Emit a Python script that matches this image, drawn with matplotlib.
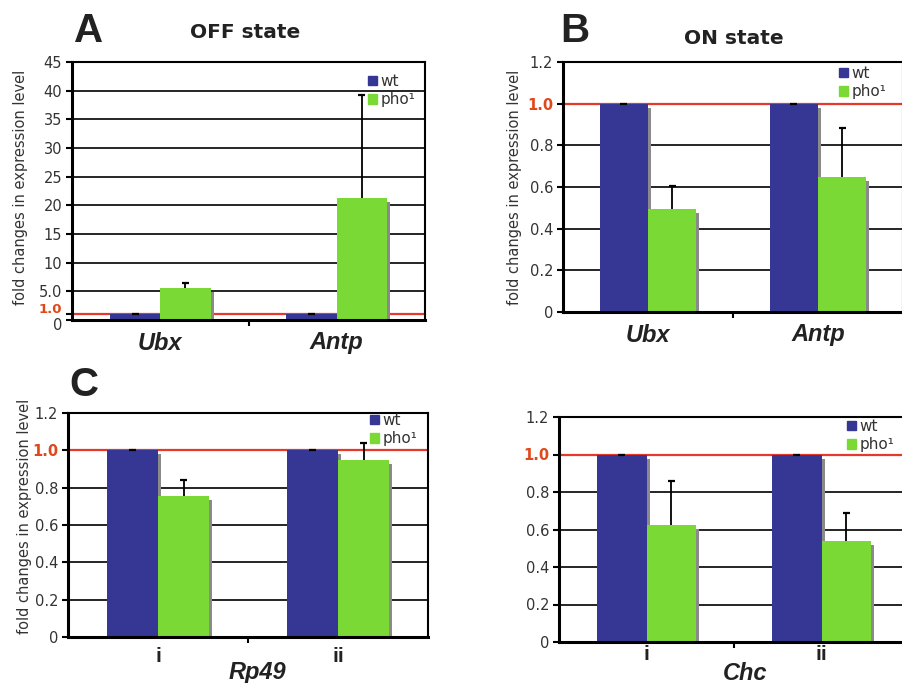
import matplotlib.pyplot as plt
import matplotlib.transforms as mtransforms
import numpy as np
from matplotlib.patches import Patch

W, H = 902, 683

wt_color = "#363794"
pho_color = "#7ad934"
line_red = "#e5392c"
label_red = "#e0481c"
text_gray = "#333333"

# A - OFF state
off_genes = ["Ubx", "Antp"]
off_wt = [1.0, 1.0]
off_pho = [5.55, 21.2]
off_pho_err = [0.95, 18.0]

# B - ON state
on_genes = ["Ubx", "Antp"]
on_wt = [1.0, 1.0]
on_pho = [0.495, 0.65]
on_pho_err = [0.11, 0.233]

# C - Rp49
rp49_regions = ["i", "ii"]
rp49_wt = [1.0, 1.0]
rp49_pho = [0.756, 0.949]
rp49_pho_err = [0.086, 0.09]

# D - Chc
chc_regions = ["i", "ii"]
chc_wt = [1.0, 1.0]
chc_pho = [0.624, 0.538]
chc_pho_err = [0.237, 0.152]

off_ticks = [0, 1.0, 5, 10, 15, 20, 25, 30, 35, 40, 45]
off_ticklabels = ["0", "1.0", "5.0", "10", "15", "20", "25", "30", "35", "40", "45"]
on_ticks = [0, 0.2, 0.4, 0.6, 0.8, 1.0, 1.2]
on_ticklabels = ["0", "0.2", "0.4", "0.6", "0.8", "1.0", "1.2"]

fig = plt.figure(figsize=(W / 100, H / 100), dpi=100)


def px_axes(left, top, right, bottom):
    return fig.add_axes([left / W, 1 - bottom / H, (right - left) / W, (bottom - top) / H])


def panel(ax, cats, wt, pho, pho_err, ticks, ticklabels, h_px, w_px, legend_xy,
          cat_style="italic", cat_off=23, cat_size=17, squeeze=False):
    x = np.arange(len(cats))
    ymax = ticks[-1]
    ax.set_xlim(-0.5, len(cats) - 0.5)
    ax.set_ylim(0, ymax)
    bw = 0.285
    for t in ticks[1:-1]:
        if t != 1.0:
            ax.axhline(t, color="black", lw=1.2, zorder=1)
    ax.axhline(1.0, color=line_red, lw=1.6, zorder=1.5)

    # grey drop shadow on the right of each bar
    dy = ymax / h_px * 4
    dx = len(cats) / w_px * 3
    ax.bar(x - bw / 2 + dx, np.array(wt) - dy, bw, color="#8a8a8a", zorder=2)
    ax.bar(x + bw / 2 + dx, np.array(pho) - dy, bw, color="#8a8a8a", zorder=2)
    ax.bar(x - bw / 2, wt, bw, color=wt_color, zorder=2.5)
    ax.bar(x + bw / 2, pho, bw, color=pho_color, zorder=2.5)

    # one-sided error bars
    cw = len(cats) / w_px * 3.5
    top = np.array(pho) + np.array(pho_err)
    ax.vlines(x + bw / 2, pho, top, color="black", lw=1.3, zorder=3)
    ax.hlines(top, x + bw / 2 - cw, x + bw / 2 + cw, color="black", lw=1.6, zorder=3)
    ax.hlines(wt, x - bw / 2 - cw, x - bw / 2 + cw, color="black", lw=1.6, zorder=3)

    ax.set_yticks(ticks)
    ax.set_yticklabels(ticklabels)
    ax.tick_params(axis="y", direction="out", length=4, width=1.5, pad=3,
                   labelsize=10.5, labelcolor=text_gray)
    for lab in ax.get_yticklabels():
        if lab.get_text() == "1.0":
            lab.set_color(label_red)
            lab.set_fontweight("bold")
            if squeeze:
                lab.set_fontsize(9.5)
                lab.set_transform(lab.get_transform() + mtransforms.ScaledTranslation(
                    0, 6 / 100, fig.dpi_scale_trans))
        if squeeze and lab.get_text() == "0":
            lab.set_transform(lab.get_transform() + mtransforms.ScaledTranslation(
                0, -4 / 100, fig.dpi_scale_trans))
    ax.set_xticks(x[:-1] + 0.5)
    ax.set_xticklabels([])
    ax.tick_params(axis="x", direction="out", length=4, width=1.5)
    for s in ax.spines.values():
        s.set_linewidth(1.5)
    ax.spines["left"].set_linewidth(2.2)
    ax.spines["bottom"].set_linewidth(2.2)

    for xi, c in zip(x, cats):
        ax.annotate(c, xy=(xi, 0), xycoords=("data", "axes fraction"),
                    xytext=(0, -cat_off), textcoords="offset pixels",
                    ha="center", va="center", fontsize=cat_size,
                    fontweight="bold", fontstyle=cat_style,
                    family="Liberation Sans", color="#222222")

    handles = [Patch(color=wt_color), Patch(color=pho_color)]
    ax.legend(handles, ["wt", "pho\u00b9"], loc="upper left",
              bbox_to_anchor=(legend_xy[0] / W, 1 - legend_xy[1] / H),
              bbox_transform=fig.transFigure, frameon=False,
              handlelength=0.6, handleheight=0.6, handletextpad=0.2,
              labelspacing=0.2, borderpad=0, borderaxespad=0, fontsize=11,
              labelcolor=text_gray)


axA = px_axes(72, 62, 425, 320)
panel(axA, off_genes, off_wt, off_pho, off_pho_err, off_ticks, off_ticklabels,
      258, 353, (368, 74), squeeze=True)

axB = px_axes(563, 62, 903, 312)
panel(axB, on_genes, on_wt, on_pho, on_pho_err, on_ticks, on_ticklabels,
      250, 340, (839, 66))

axC = px_axes(68, 413, 428, 637)
panel(axC, rp49_regions, rp49_wt, rp49_pho, rp49_pho_err, on_ticks, on_ticklabels,
      224, 360, (370, 413), cat_style="normal", cat_off=20, cat_size=15)

axD = px_axes(559, 417, 909, 642)
panel(axD, chc_regions, chc_wt, chc_pho, chc_pho_err, on_ticks, on_ticklabels,
      225, 350, (847, 419), cat_style="normal", cat_off=13, cat_size=15)

ylab = "fold changes in expression level"
fig.text(21 / W, 1 - 187 / H, ylab, rotation=90, ha="center", va="center",
         fontsize=10.5, color=text_gray)
fig.text(515 / W, 1 - 187 / H, ylab, rotation=90, ha="center", va="center",
         fontsize=10.5, color=text_gray)
fig.text(25 / W, 1 - 516 / H, ylab, rotation=90, ha="center", va="center",
         fontsize=10.5, color=text_gray)

# panel letters and titles
for letter, lx, ly in [("A", 89, 31), ("B", 575, 31), ("C", 84, 385)]:
    fig.text(lx / W, 1 - ly / H, letter, ha="center", va="center", fontsize=29,
             fontweight="bold", family="Liberation Sans", color="#222222")
fig.text(245 / W, 1 - 32 / H, "OFF state", ha="center", va="center",
         fontsize=14.5, fontweight="bold", color="#222222")
fig.text(734 / W, 1 - 38 / H, "ON state", ha="center", va="center",
         fontsize=14.5, fontweight="bold", color="#222222")

fig.text(257 / W, 1 - 673 / H, "Rp49", ha="center", va="center", fontsize=17,
         fontweight="bold", fontstyle="italic", family="Liberation Sans", color="#222222")
fig.text(745 / W, 1 - 673 / H, "Chc", ha="center", va="center", fontsize=17,
         fontweight="bold", fontstyle="italic", family="Liberation Sans", color="#222222")

fig.savefig("out.png", dpi=100)
